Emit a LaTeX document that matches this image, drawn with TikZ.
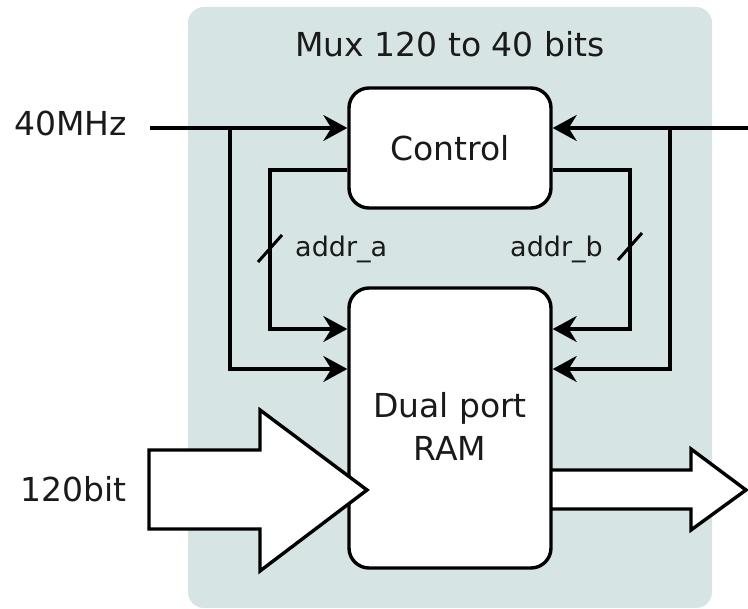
\documentclass[tikz,border=0pt]{standalone}
\usepackage{fontspec}
\setmainfont{DejaVu Sans}
\usetikzlibrary{arrows.meta,calc}
\definecolor{panelc}{HTML}{D7E4E4}
\definecolor{txt}{HTML}{1A1A1A}
\begin{document}
\begin{tikzpicture}[x=1pt,y=-1pt,
  lw/.style={line width=3.4pt},
  blk/.style={draw=black,lw,fill=white,rounded corners=20pt,align=center,
    font=\fontsize{33}{43}\selectfont,text=txt,inner sep=0pt},
  sig/.style={lw,-{Stealth[length=24pt,width=26pt,inset=8pt]}},
  slashm/.style={line width=3pt},
  lbl/.style={font=\fontsize{33}{43}\selectfont,text=txt,inner sep=0pt},
  slbl/.style={font=\fontsize{27}{32}\selectfont,text=txt,inner sep=0pt},
  fat/.style={lw,fill=white,line join=miter}]
\useasboundingbox (0,0) rectangle (748,609);
\fill[panelc,rounded corners=16pt] (188,7) rectangle (712,608);
\node[lbl,anchor=base] (title) at (450,57) {Mux 120 to 40 bits};
% output arrow (behind RAM)
\draw[fat] (540,470) -- (691,470) -- (691,449) -- (746,490) -- (691,530) -- (691,509) -- (540,509);
\node[blk,minimum width=202pt,minimum height=120pt] (ctrl) at (450,148) {Control};
\node[blk,minimum width=202pt,minimum height=280pt] (ram) at (450,428) {};
\node[lbl,anchor=base] (ramtxt1) at (450,418) {Dual port};
\node[lbl,anchor=base] (ramtxt2) at (450,461) {RAM};
% clock inputs
\node[lbl,anchor=base west] (clk) at (14,136) {40MHz};
\coordinate (clkL) at (150,128);
\coordinate (clkR) at (748,128);
\coordinate (jL) at (230,128);
\coordinate (jR) at (670,128);
\draw[sig] (clkL) -- (ctrl.west |- clkL);
\draw[sig] (clkR) -- (ctrl.east |- clkR);
\draw[sig] (jL) -- (230,369) -- (ram.west |- 0,369);
\draw[sig] (jR) -- (670,369) -- (ram.east |- 0,369);
% address buses
\draw[sig] (ctrl.west |- 0,170) -- (270,170) -- (270,329) -- (ram.west |- 0,329);
\draw[sig] (ctrl.east |- 0,170) -- (630,170) -- (630,329) -- (ram.east |- 0,329);
\draw[slashm] (258,262) -- (282,235);
\draw[slashm] (618,260) -- (642,233);
\node[slbl,anchor=base west] (aa) at (295,257) {addr\_a};
\node[slbl,anchor=base east] (ab) at (603,257) {addr\_b};
% data input
\node[lbl,anchor=base west] (din) at (20,502) {120bit};
\draw[fat] (149,450) -- (260,450) -- (260,410) -- (367,490) -- (260,571) -- (260,529) -- (149,529) -- cycle;
\end{tikzpicture}
\end{document}
